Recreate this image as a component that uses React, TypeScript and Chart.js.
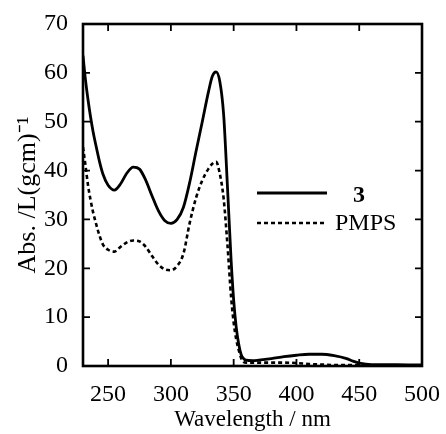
import React, { useEffect, useRef } from "react";
import { Chart, registerables } from "chart.js";

Chart.register(...registerables);

const wavelengths = [230, 232, 234, 236, 238, 240, 243, 246, 250, 255, 260, 265, 270, 275, 280, 285, 290, 295, 300, 305, 310, 315, 320, 325, 330, 333, 336, 339, 342, 345, 348, 350, 352, 354, 356, 358, 360, 365, 370, 380, 390, 400, 410, 420, 430, 440, 445, 450, 460, 480, 500];

const series3 = [63.5, 58.5, 54.5, 51.0, 48.0, 45.5, 42.0, 39.2, 37.0, 36.0, 37.3, 39.5, 40.7, 40.3, 38.0, 34.8, 31.8, 29.8, 29.2, 30.0, 32.5, 37.6, 43.9, 50.0, 56.2, 59.3, 60.2, 58.2, 51.5, 37.0, 21.5, 13.5, 8.0, 4.5, 2.3, 1.5, 1.2, 1.1, 1.2, 1.5, 1.9, 2.2, 2.4, 2.4, 2.1, 1.5, 1.0, 0.6, 0.3, 0.3, 0.2];

const seriesPMPS = [44.8, 41.0, 37.0, 34.0, 31.5, 29.5, 26.8, 24.8, 23.8, 23.4, 24.4, 25.3, 25.7, 25.5, 24.4, 22.5, 20.8, 19.8, 19.6, 20.5, 23.0, 29.3, 34.4, 38.0, 40.4, 41.4, 41.8, 39.3, 34.3, 25.0, 14.0, 8.9, 5.5, 3.3, 1.6, 0.8, 0.7, 0.7, 0.7, 0.7, 0.7, 0.6, 0.4, 0.3, 0.2, 0.2, 0.2, 0.2, 0.1, 0.1, 0.1];

const seriesLabels = ["3", "PMPS"];
const xTickValues = [250, 300, 350, 400, 450, 500];
const yTickValues = [0, 10, 20, 30, 40, 50, 60, 70];

const FONT = "'Liberation Serif', 'Times New Roman', serif";

const framePlugin = {
  id: "frameTicks",
  afterDatasetsDraw(chart: any) {
    const { ctx, chartArea, scales } = chart;
    const { left, right, top, bottom } = chartArea;
    const L = 7;
    ctx.save();
    ctx.strokeStyle = "#000";
    ctx.lineWidth = 1.8;
    ctx.beginPath();
    scales.x.ticks.forEach((t: any) => {
      const px = scales.x.getPixelForValue(t.value);
      ctx.moveTo(px, bottom);
      ctx.lineTo(px, bottom - L);
      ctx.moveTo(px, top);
      ctx.lineTo(px, top + L);
    });
    scales.y.ticks.forEach((t: any) => {
      const py = scales.y.getPixelForValue(t.value);
      ctx.moveTo(left, py);
      ctx.lineTo(left + L, py);
      ctx.moveTo(right, py);
      ctx.lineTo(right - L, py);
    });
    ctx.stroke();
    ctx.lineWidth = 2.6;
    ctx.strokeRect(left, top, right - left, bottom - top);
    ctx.restore();
  },
};

const legendPlugin = {
  id: "insideLegend",
  afterDraw(chart: any) {
    const { ctx } = chart;
    const items = [
      { x0: 257, x1: 327, y: 193, tx: 353, ty: 202, bold: true },
      { x0: 257, x1: 327, y: 223, tx: 335, ty: 230, bold: false },
    ];
    ctx.save();
    chart.data.datasets.forEach((ds: any, i: number) => {
      const it = items[i];
      ctx.strokeStyle = ds.borderColor;
      ctx.lineWidth = ds.borderWidth;
      ctx.setLineDash(ds.borderDash || []);
      ctx.beginPath();
      ctx.moveTo(it.x0, it.y);
      ctx.lineTo(it.x1, it.y);
      ctx.stroke();
      ctx.setLineDash([]);
      ctx.fillStyle = "#000";
      ctx.font = `${it.bold ? "bold " : ""}24px ${FONT}`;
      ctx.textBaseline = "alphabetic";
      ctx.textAlign = "left";
      ctx.fillText(ds.label, it.tx, it.ty);
    });
    ctx.restore();
  },
};

export default function App() {
  const ref = useRef<HTMLCanvasElement | null>(null);
  useEffect(() => {
    if (!ref.current) return;
    const tickFont = { family: FONT, size: 24 };
    const xTitleFont = { family: FONT, size: 23 };
    const yTitleFont = { family: FONT, size: 26 };
    const chart = new Chart(ref.current, {
      type: "line",
      data: {
        labels: wavelengths,
        datasets: [
          {
            label: seriesLabels[0],
            data: wavelengths.map((w, i) => ({ x: w, y: series3[i] })),
            borderColor: "#000",
            borderWidth: 2.8,
            pointRadius: 0,
            cubicInterpolationMode: "monotone",
            fill: false,
          },
          {
            label: seriesLabels[1],
            data: wavelengths.map((w, i) => ({ x: w, y: seriesPMPS[i] })),
            borderColor: "#000",
            borderWidth: 2.6,
            borderDash: [4, 3],
            pointRadius: 0,
            cubicInterpolationMode: "monotone",
            fill: false,
          },
        ],
      },
      options: {
        animation: false,
        responsive: false,
        devicePixelRatio: 1,
        layout: { padding: { left: 0, right: 20, top: 24, bottom: 0 } },
        plugins: { legend: { display: false }, tooltip: { enabled: false } },
        scales: {
          x: {
            type: "linear",
            min: 230,
            max: 500,
            grid: { display: false },
            border: { display: false },
            afterBuildTicks: (s: any) => {
              s.ticks = xTickValues.map((v) => ({ value: v }));
            },
            afterFit: (s: any) => {
              s.height = 68;
            },
            ticks: { font: tickFont, color: "#000", padding: 6, maxRotation: 0, autoSkip: false },
            title: {
              display: true,
              text: "Wavelength / nm",
              font: xTitleFont,
              color: "#000",
              padding: { top: 0, bottom: 0 },
            },
          },
          y: {
            type: "linear",
            min: 0,
            max: 70,
            grid: { display: false },
            border: { display: false },
            afterBuildTicks: (s: any) => {
              s.ticks = yTickValues.map((v) => ({ value: v }));
            },
            afterFit: (s: any) => {
              s.width = 83;
            },
            ticks: { font: tickFont, color: "#000", padding: 7, autoSkip: false },
            title: {
              display: true,
              text: "Abs. /L(gcm)\u207B\u00B9",
              font: yTitleFont,
              color: "#000",
              padding: { top: 12.5, bottom: 0 },
            },
          },
        },
      },
      plugins: [framePlugin, legendPlugin],
    } as any);
    return () => chart.destroy();
  }, []);

  return (
    <div style={{ position: "fixed", left: 0, top: 0, width: 446, height: 434, background: "#fff" }}>
      <canvas ref={ref} width={446} height={434} style={{ width: 446, height: 434, display: "block" }} />
    </div>
  );
}
